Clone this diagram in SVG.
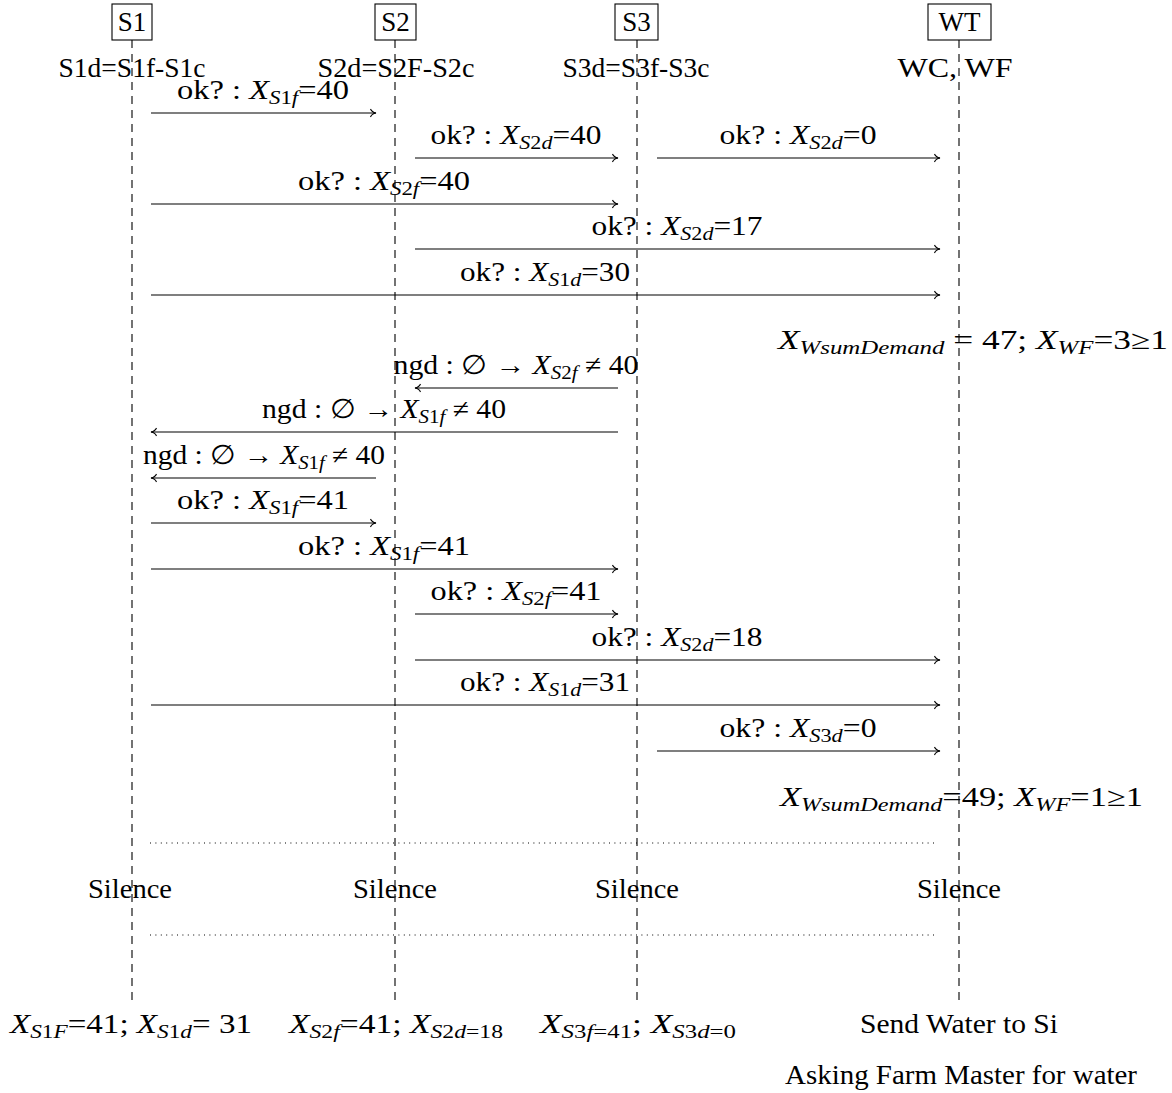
<svg xmlns="http://www.w3.org/2000/svg" width="1172" height="1093" viewBox="0 0 1172 1093">
<style>
.t { font-family: "Liberation Serif", "Times New Roman", serif; font-size: 27px; fill: #000; }
.it { font-style: italic; }
.sub { font-size: 19px; }
.box { fill: #fff; stroke: #000; stroke-width: 1.1; }
.life { stroke: #000; stroke-width: 1.1; stroke-dasharray: 8 6; fill: none; }
.msg { stroke: #000; stroke-width: 1.1; fill: none; marker-end: url(#to); }
.dot { stroke: #000; stroke-width: 1; stroke-dasharray: 1 4.4; fill: none; }
</style>
<defs>
<marker id="to" markerUnits="userSpaceOnUse" markerWidth="1" markerHeight="1" refX="0" refY="0" orient="auto" overflow="visible">
<path d="M -5.5 -4 C -4.5 -1.5 -1.5 -0.3 0 0 C -1.5 0.3 -4.5 1.5 -5.5 4" fill="none" stroke="#000" stroke-width="1.1"/>
</marker>
</defs>
<rect width="1172" height="1093" fill="#fff"/>

<g id="lifelines">
<line class="life" x1="132" y1="40" x2="132" y2="1005"/>
<line class="life" x1="395" y1="40" x2="395" y2="1005"/>
<line class="life" x1="637" y1="40" x2="637" y2="1005"/>
<line class="life" x1="959" y1="40" x2="959" y2="1005"/>
</g>

<g id="S1">
<rect class="box" x="112" y="4" width="40" height="36"/>
<text class="t" x="132" y="31" text-anchor="middle">S1</text>
<text class="t" x="132" y="77" text-anchor="middle" textLength="147" lengthAdjust="spacingAndGlyphs">S1d=S1f-S1c</text>
</g>
<g id="S2">
<rect class="box" x="375" y="4" width="41" height="36"/>
<text class="t" x="395.5" y="31" text-anchor="middle">S2</text>
<text class="t" x="396" y="77" text-anchor="middle" textLength="157" lengthAdjust="spacingAndGlyphs">S2d=S2F-S2c</text>
</g>
<g id="S3">
<rect class="box" x="615" y="4" width="43" height="36"/>
<text class="t" x="636.5" y="31" text-anchor="middle">S3</text>
<text class="t" x="636" y="77" text-anchor="middle" textLength="147" lengthAdjust="spacingAndGlyphs">S3d=S3f-S3c</text>
</g>
<g id="WT">
<rect class="box" x="928" y="4" width="63" height="36"/>
<text class="t" x="959.5" y="31" text-anchor="middle">WT</text>
<text class="t" x="955" y="77" text-anchor="middle" textLength="115" lengthAdjust="spacingAndGlyphs">WC, WF</text>
</g>

<g id="connectors">
<line class="msg" x1="151" y1="113" x2="376" y2="113"/>
<line class="msg" x1="415" y1="158" x2="618" y2="158"/>
<line class="msg" x1="657" y1="158" x2="940" y2="158"/>
<line class="msg" x1="151" y1="204" x2="618" y2="204"/>
<line class="msg" x1="415" y1="249" x2="940" y2="249"/>
<line class="msg" x1="151" y1="295" x2="940" y2="295"/>
<line class="msg" x1="618" y1="388" x2="415" y2="388"/>
<line class="msg" x1="618" y1="432" x2="151" y2="432"/>
<line class="msg" x1="376" y1="478" x2="151" y2="478"/>
<line class="msg" x1="151" y1="523" x2="376" y2="523"/>
<line class="msg" x1="151" y1="569" x2="618" y2="569"/>
<line class="msg" x1="415" y1="614" x2="618" y2="614"/>
<line class="msg" x1="415" y1="660" x2="940" y2="660"/>
<line class="msg" x1="151" y1="705" x2="940" y2="705"/>
<line class="msg" x1="657" y1="751" x2="940" y2="751"/>
<line class="dot" x1="150" y1="843" x2="938" y2="843"/>
<line class="dot" x1="150" y1="935" x2="938" y2="935"/>
</g>

<g id="labels">
<text class="t" x="263" y="99" text-anchor="middle" textLength="172" lengthAdjust="spacingAndGlyphs">ok? : <tspan class="it">X</tspan><tspan class="sub" dy="5"><tspan class="it">S</tspan>1<tspan class="it">f</tspan></tspan><tspan dy="-5">=40</tspan></text>
<text class="t" x="516" y="144" text-anchor="middle" textLength="171" lengthAdjust="spacingAndGlyphs">ok? : <tspan class="it">X</tspan><tspan class="sub" dy="5"><tspan class="it">S</tspan>2<tspan class="it">d</tspan></tspan><tspan dy="-5">=40</tspan></text>
<text class="t" x="798" y="144" text-anchor="middle" textLength="157" lengthAdjust="spacingAndGlyphs">ok? : <tspan class="it">X</tspan><tspan class="sub" dy="5"><tspan class="it">S</tspan>2<tspan class="it">d</tspan></tspan><tspan dy="-5">=0</tspan></text>
<text class="t" x="384" y="190" text-anchor="middle" textLength="172" lengthAdjust="spacingAndGlyphs">ok? : <tspan class="it">X</tspan><tspan class="sub" dy="5"><tspan class="it">S</tspan>2<tspan class="it">f</tspan></tspan><tspan dy="-5">=40</tspan></text>
<text class="t" x="677" y="235" text-anchor="middle" textLength="171" lengthAdjust="spacingAndGlyphs">ok? : <tspan class="it">X</tspan><tspan class="sub" dy="5"><tspan class="it">S</tspan>2<tspan class="it">d</tspan></tspan><tspan dy="-5">=17</tspan></text>
<text class="t" x="545" y="281" text-anchor="middle" textLength="170" lengthAdjust="spacingAndGlyphs">ok? : <tspan class="it">X</tspan><tspan class="sub" dy="5"><tspan class="it">S</tspan>1<tspan class="it">d</tspan></tspan><tspan dy="-5">=30</tspan></text>
<text class="t" x="778" y="349" textLength="390" lengthAdjust="spacingAndGlyphs"><tspan class="it">X</tspan><tspan class="sub it" dy="5">WsumDemand</tspan><tspan dy="-5"> = 47; </tspan><tspan class="it">X</tspan><tspan class="sub it" dy="5">WF</tspan><tspan dy="-5">=3≥1</tspan></text>
<text class="t" x="516" y="374" text-anchor="middle" textLength="245" lengthAdjust="spacingAndGlyphs">ngd : ∅ → <tspan class="it">X</tspan><tspan class="sub" dy="5"><tspan class="it">S</tspan>2<tspan class="it">f</tspan></tspan><tspan dy="-5"> ≠ 40</tspan></text>
<text class="t" x="384" y="418" text-anchor="middle" textLength="244" lengthAdjust="spacingAndGlyphs">ngd : ∅ → <tspan class="it">X</tspan><tspan class="sub" dy="5"><tspan class="it">S</tspan>1<tspan class="it">f</tspan></tspan><tspan dy="-5"> ≠ 40</tspan></text>
<text class="t" x="264" y="464" text-anchor="middle" textLength="242" lengthAdjust="spacingAndGlyphs">ngd : ∅ → <tspan class="it">X</tspan><tspan class="sub" dy="5"><tspan class="it">S</tspan>1<tspan class="it">f</tspan></tspan><tspan dy="-5"> ≠ 40</tspan></text>
<text class="t" x="263" y="509" text-anchor="middle" textLength="172" lengthAdjust="spacingAndGlyphs">ok? : <tspan class="it">X</tspan><tspan class="sub" dy="5"><tspan class="it">S</tspan>1<tspan class="it">f</tspan></tspan><tspan dy="-5">=41</tspan></text>
<text class="t" x="384" y="555" text-anchor="middle" textLength="172" lengthAdjust="spacingAndGlyphs">ok? : <tspan class="it">X</tspan><tspan class="sub" dy="5"><tspan class="it">S</tspan>1<tspan class="it">f</tspan></tspan><tspan dy="-5">=41</tspan></text>
<text class="t" x="516" y="600" text-anchor="middle" textLength="171" lengthAdjust="spacingAndGlyphs">ok? : <tspan class="it">X</tspan><tspan class="sub" dy="5"><tspan class="it">S</tspan>2<tspan class="it">f</tspan></tspan><tspan dy="-5">=41</tspan></text>
<text class="t" x="677" y="646" text-anchor="middle" textLength="171" lengthAdjust="spacingAndGlyphs">ok? : <tspan class="it">X</tspan><tspan class="sub" dy="5"><tspan class="it">S</tspan>2<tspan class="it">d</tspan></tspan><tspan dy="-5">=18</tspan></text>
<text class="t" x="545" y="691" text-anchor="middle" textLength="170" lengthAdjust="spacingAndGlyphs">ok? : <tspan class="it">X</tspan><tspan class="sub" dy="5"><tspan class="it">S</tspan>1<tspan class="it">d</tspan></tspan><tspan dy="-5">=31</tspan></text>
<text class="t" x="798" y="737" text-anchor="middle" textLength="157" lengthAdjust="spacingAndGlyphs">ok? : <tspan class="it">X</tspan><tspan class="sub" dy="5"><tspan class="it">S</tspan>3<tspan class="it">d</tspan></tspan><tspan dy="-5">=0</tspan></text>
<text class="t" x="780" y="806" textLength="363" lengthAdjust="spacingAndGlyphs"><tspan class="it">X</tspan><tspan class="sub it" dy="5">WsumDemand</tspan><tspan dy="-5">=49; </tspan><tspan class="it">X</tspan><tspan class="sub it" dy="5">WF</tspan><tspan dy="-5">=1≥1</tspan></text>
</g>

<g id="silence">
<text class="t" x="130" y="898" text-anchor="middle" textLength="84" lengthAdjust="spacingAndGlyphs">Silence</text>
<text class="t" x="395" y="898" text-anchor="middle" textLength="84" lengthAdjust="spacingAndGlyphs">Silence</text>
<text class="t" x="637" y="898" text-anchor="middle" textLength="84" lengthAdjust="spacingAndGlyphs">Silence</text>
<text class="t" x="959" y="898" text-anchor="middle" textLength="84" lengthAdjust="spacingAndGlyphs">Silence</text>
</g>

<g id="bottom">
<text class="t" x="131" y="1033" text-anchor="middle" textLength="242" lengthAdjust="spacingAndGlyphs"><tspan class="it">X</tspan><tspan class="sub" dy="5"><tspan class="it">S</tspan>1<tspan class="it">F</tspan></tspan><tspan dy="-5">=41; </tspan><tspan class="it">X</tspan><tspan class="sub" dy="5"><tspan class="it">S</tspan>1<tspan class="it">d</tspan></tspan><tspan dy="-5">= 31</tspan></text>
<text class="t" x="396" y="1033" text-anchor="middle" textLength="214" lengthAdjust="spacingAndGlyphs"><tspan class="it">X</tspan><tspan class="sub" dy="5"><tspan class="it">S</tspan>2<tspan class="it">f</tspan></tspan><tspan dy="-5">=41; </tspan><tspan class="it">X</tspan><tspan class="sub" dy="5"><tspan class="it">S</tspan>2<tspan class="it">d</tspan>=18</tspan></text>
<text class="t" x="638" y="1033" text-anchor="middle" textLength="196" lengthAdjust="spacingAndGlyphs"><tspan class="it">X</tspan><tspan class="sub" dy="5"><tspan class="it">S</tspan>3<tspan class="it">f</tspan>=41</tspan><tspan dy="-5">; </tspan><tspan class="it">X</tspan><tspan class="sub" dy="5"><tspan class="it">S</tspan>3<tspan class="it">d</tspan>=0</tspan></text>
<text class="t" x="959" y="1033" text-anchor="middle" textLength="198" lengthAdjust="spacingAndGlyphs">Send Water to Si</text>
<text class="t" x="961" y="1084" text-anchor="middle" textLength="352" lengthAdjust="spacingAndGlyphs">Asking Farm Master for water</text>
</g>
</svg>
